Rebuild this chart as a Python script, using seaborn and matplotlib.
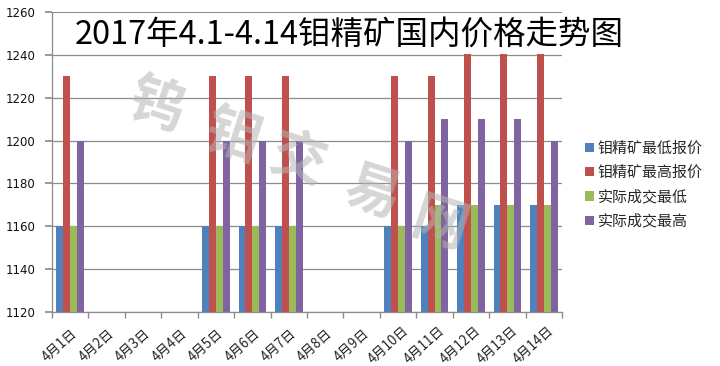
import numpy as np
import pandas as pd
import matplotlib
matplotlib.use("Agg")
import matplotlib.pyplot as plt
from matplotlib.patches import Rectangle
from matplotlib.ticker import FixedLocator
from matplotlib.transforms import ScaledTranslation, blended_transform_factory
import seaborn as sns

# ---- data ----
dates = ["4月1日", "4月2日", "4月3日", "4月4日", "4月5日", "4月6日", "4月7日",
         "4月8日", "4月9日", "4月10日", "4月11日", "4月12日", "4月13日", "4月14日"]
series_names = ["钼精矿最低报价", "钼精矿最高报价", "实际成交最低", "实际成交最高"]
nan = np.nan
quote_low = [1160, nan, nan, nan, 1160, 1160, 1160, nan, nan, 1160, 1160, 1170, 1170, 1170]
quote_high = [1230, nan, nan, nan, 1230, 1230, 1230, nan, nan, 1230, 1230, 1250, 1250, 1250]
deal_low = [1160, nan, nan, nan, 1160, 1160, 1160, nan, nan, 1160, 1170, 1170, 1170, 1170]
deal_high = [1200, nan, nan, nan, 1200, 1200, 1200, nan, nan, 1200, 1210, 1210, 1210, 1200]
y_ticks = [1120, 1140, 1160, 1180, 1200, 1220, 1240, 1260]
title_text = "2017年4.1-4.14钼精矿国内价格走势图"
watermark_chars = ["钨", "钼", "交", "易", "网"]

colors = ["#4F81BD", "#C0504D", "#9BBB59", "#8064A2"]

rows = []
for name, vals in zip(series_names, [quote_low, quote_high, deal_low, deal_high]):
    for d, v in zip(dates, vals):
        rows.append({"date": d, "series": name, "price": v})
df = pd.DataFrame(rows).dropna()

sns.set_theme(style="white")
plt.rcParams["font.family"] = ["Noto Sans CJK SC", "DejaVu Sans"]

fig = plt.figure(figsize=(7.2, 3.66), dpi=100)
ax = fig.add_axes([0.0722, 0.1475, 0.7084, 0.8195])

sns.barplot(data=df, x="date", y="price", hue="series", order=dates,
            hue_order=series_names, palette=colors, width=0.76, gap=0,
            errorbar=None, saturation=1, ax=ax, zorder=2, linewidth=0)

ax.set_ylim(y_ticks[0], y_ticks[-1])
ax.set_xlim(-0.5, len(dates) - 0.5)
ax.set_yticks(y_ticks)
ax.set_yticklabels([str(t) for t in y_ticks], fontsize=8.5, family="DejaVu Sans",
                   color="#111111")
ax.yaxis.grid(True, color="#8c8c8c", linewidth=0.9, zorder=0)
ax.set_axisbelow(True)
ax.set_xlabel("")
ax.set_ylabel("")

for s in ["top", "right"]:
    ax.spines[s].set_visible(False)
for s in ["left", "bottom"]:
    ax.spines[s].set_color("#8c8c8c")
    ax.spines[s].set_linewidth(0.9)

ax.tick_params(axis="y", which="major", left=True, length=5, color="#8c8c8c", pad=7)

# category labels, slanted, hanging below each group
ax.set_xticks(range(len(dates)))
ax.set_xticklabels([])
ax.tick_params(axis="x", which="major", bottom=False)
ax.xaxis.set_minor_locator(FixedLocator(np.arange(-0.5, len(dates), 1.0)))
ax.tick_params(axis="x", which="minor", bottom=True, length=4, color="#8c8c8c")
label_tf = blended_transform_factory(ax.transData, ax.transAxes) + \
    ScaledTranslation(-10 / 100, -33 / 100, fig.dpi_scale_trans)
for i, d in enumerate(dates):
    ax.text(i, 0, d, transform=label_tf, rotation=42, rotation_mode="anchor",
            ha="center", va="center", fontsize=9.6, color="#222222", clip_on=False)

# title sits on a white panel over the top band of the plot
ax.add_patch(Rectangle((-0.45, 1240.5), len(dates) - 0.1, 19.0, facecolor="white",
                       edgecolor="none", zorder=3))
fig.text(0.485, 0.905, title_text, fontsize=23.4, ha="center", va="center",
         color="black", zorder=10)

# legend
handles, labels = ax.get_legend_handles_labels()
leg = ax.legend(handles, labels, loc="upper left", bbox_to_anchor=(0.804, 0.629),
                bbox_transform=fig.transFigure, frameon=False, fontsize=10.8,
                handlelength=0.6, handleheight=0.6, handletextpad=0.25,
                labelspacing=0.65, borderaxespad=0)

# watermark
wm_pos = [(157, 107), (233, 137), (297, 160), (373, 193), (440, 226)]
for ch, (px, py) in zip(watermark_chars, wm_pos):
    fig.text(px / 720, 1 - py / 366, ch, fontsize=40, ha="center", va="center",
             rotation=-18, color="#b4b4b4", alpha=0.55, zorder=20,
             fontweight="bold")

fig.savefig("out.png", dpi=100)
